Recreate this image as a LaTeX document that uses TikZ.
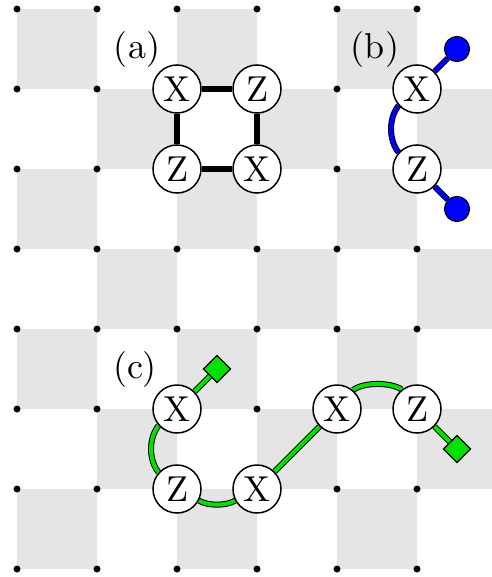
\documentclass[tikz,border=0pt]{standalone}
\usepackage{fontspec}
\setmainfont{lmroman10-regular}[Extension=.otf]
\pgfdeclarelayer{gridlayer}
\pgfdeclarelayer{edgelayer}
\pgfsetlayers{gridlayer,edgelayer,main}
\definecolor{sqgray}{RGB}{229,229,229}
\definecolor{mygreen}{RGB}{0,225,0}
\tikzset{
  qubit/.style={circle, draw=black, line width=1.5pt, fill=white, minimum size=48pt, inner sep=0pt, font=\fontsize{36}{40}\selectfont},
  lab/.style={inner sep=0pt, font=\fontsize{36}{40}\selectfont},
  thickedge/.style={line width=6.5pt, draw=black},
  bedge/.style={draw=black, double=blue, line width=1pt, double distance=4pt},
  gedge/.style={draw=black, double=mygreen, line width=1pt, double distance=4pt},
  bdot/.style={circle, draw=black, line width=1.2pt, fill=blue, minimum size=25pt, inner sep=0pt},
  gdiam/.style={rectangle, rotate=45, draw=black, line width=1.2pt, fill=mygreen, minimum size=19pt, inner sep=0pt},
  sq/.style={fill=sqgray},
}
\begin{document}
\begin{tikzpicture}[x=1pt,y=-1pt]
\useasboundingbox (0,0) rectangle (491,577);
\clip (0,0) rectangle (491,577);
\begin{pgfonlayer}{gridlayer}
  \foreach \r in {0,...,6}{
    \foreach \c in {0,...,5}{
      \pgfmathtruncatemacro\s{mod(\r+\c,2)}
      \ifnum\s=0
        \fill[sq] ({17+80*\c},{9+80*\r}) rectangle +(80,80);
      \fi
    }
  }
  \foreach \r in {0,...,7}{
    \foreach \c in {0,...,5}{
      \fill[black] ({17+80*\c},{9+80*\r}) circle (3.5pt);
    }
  }
\end{pgfonlayer}

% (a)
\node[qubit] (aX1) at (177,89) {X};
\node[qubit] (aZ1) at (257,89) {Z};
\node[qubit] (aZ2) at (177,169) {Z};
\node[qubit] (aX2) at (257,169) {X};
\node[lab] (la) at (137,50) {(a)};

% (b)
\node[qubit] (bX) at (417,89) {X};
\node[qubit] (bZ) at (417,169) {Z};
\node[bdot] (bd1) at (457,49) {};
\node[bdot] (bd2) at (457,209) {};
\node[lab] (lb) at (375,50) {(b)};

% (c)
\node[qubit] (cX1) at (177,409) {X};
\node[qubit] (cZ1) at (177,489) {Z};
\node[qubit] (cX2) at (257,489) {X};
\node[qubit] (cX3) at (337,409) {X};
\node[qubit] (cZ2) at (417,409) {Z};
\node[gdiam] (cd1) at (217,369) {};
\node[gdiam] (cd2) at (457,449) {};
\node[lab] (lc) at (135,369) {(c)};

\begin{pgfonlayer}{edgelayer}
  \draw[thickedge] (aX1) -- (aZ1);
  \draw[thickedge] (aZ1) -- (aX2);
  \draw[thickedge] (aX2) -- (aZ2);
  \draw[thickedge] (aZ2) -- (aX1);

  \draw[bedge] (bX) -- (bd1);
  \draw[bedge] (bZ) -- (bd2);
  \draw[bedge] (bX.222) .. controls (388.5,118) and (388.5,140) .. (bZ.138);

  \draw[gedge] (cX1) -- (cd1);
  \draw[gedge] (cX1.222) .. controls (148.5,438) and (148.5,460) .. (cZ1.138);
  \draw[gedge] (cZ1.-28) .. controls (208,506) and (226,506) .. (cX2.208);
  \draw[gedge] (cX2) -- (cX3);
  \draw[gedge] (cX3.50) .. controls (364,382) and (390,382) .. (cZ2.128);
  \draw[gedge] (cZ2) -- (cd2);
\end{pgfonlayer}
\end{tikzpicture}
\end{document}
